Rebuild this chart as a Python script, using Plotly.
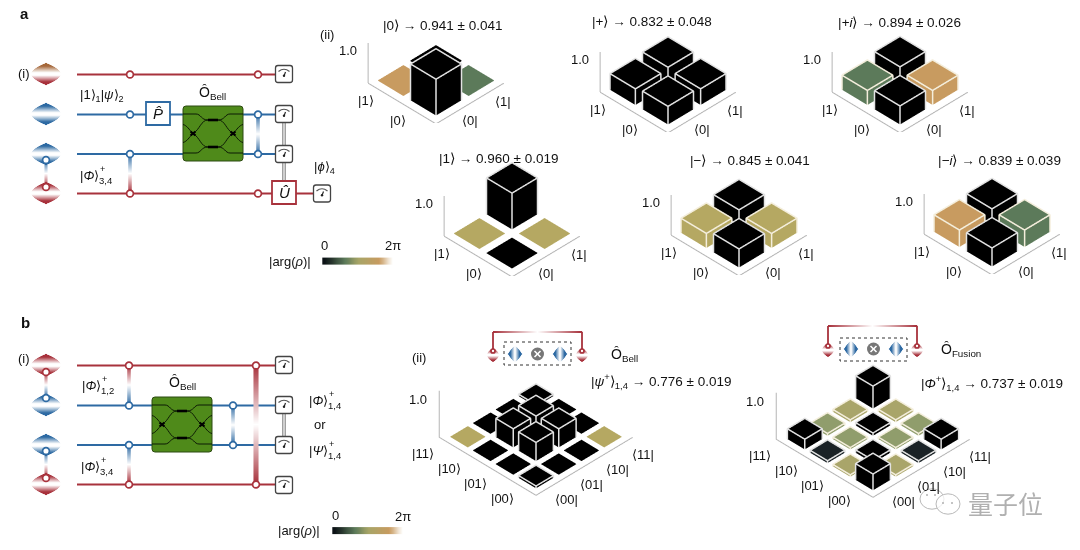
import plotly.graph_objects as go

# ---------- data ----------
K, TAN, GRN, OLV = "#000000", "#c89b60", "#5c7a5a", "#b5a862"
OL2, GR2, DRK = "#a9a56a", "#909d6c", "#1a2226"
panel_titles = ["|0⟩ → 0.941 ± 0.041", "|+⟩ → 0.832 ± 0.048", "|<i>+i</i>⟩ → 0.894 ± 0.026",
                "|1⟩ → 0.960 ± 0.019", "|−⟩ → 0.845 ± 0.041", "|<i>−i</i>⟩ → 0.839 ± 0.039"]
h_0 = [[0.90, 0.01], [0.01, 0.02]]
c_0 = [[K, GRN], [TAN, K]]
h_plus = [[0.45, 0.40], [0.40, 0.45]]
c_plus = [[K, K], [K, K]]
h_pi = [[0.46, 0.36], [0.36, 0.46]]
c_pi = [[K, TAN], [GRN, K]]
h_1 = [[0.01, 0.01], [0.01, 0.90]]
c_1 = [[K, OLV], [OLV, K]]
h_minus = [[0.46, 0.36], [0.36, 0.46]]
c_minus = [[K, OLV], [OLV, K]]
h_mi = [[0.46, 0.42], [0.42, 0.46]]
c_mi = [[K, GRN], [TAN, K]]
h_bell = [[0.05, 0.01, 0.01, 0.01], [0.01, 0.40, 0.40, 0.01],
          [0.01, 0.40, 0.38, 0.01], [0.01, 0.01, 0.01, 0.04]]
c_bell = [[K, K, K, OLV], [K, K, K, K], [K, K, K, K], [OLV, K, K, K]]
h_fus = [[0.35, 0.04, 0.05, 0.22], [0.04, 0.06, 0.04, 0.05],
         [0.05, 0.04, 0.06, 0.05], [0.22, 0.05, 0.05, 0.48]]
c_fus = [[K, OL2, DRK, K], [OL2, K, GR2, GR2], [DRK, GR2, K, OL2], [K, GR2, OL2, K]]
panels_a = [(h_0, c_0, 436, 122), (h_plus, c_plus, 668, 131), (h_pi, c_pi, 900, 131),
            (h_1, c_1, 512, 275), (h_minus, c_minus, 739, 274), (h_mi, c_mi, 992, 273)]
panels_b = [(h_bell, c_bell, 536, 495), (h_fus, c_fus, 873, 497)]
title_pos = [(443, 25), (652, 21), (899, 22), (499, 158), (750, 160), (999, 160)]
kets_a, bras_a = ["|0⟩", "|1⟩"], ["⟨0|", "⟨1|"]
kets_b, bras_b = ["|00⟩", "|01⟩", "|10⟩", "|11⟩"], ["⟨00|", "⟨01|", "⟨10|", "⟨11|"]
cbar_scale = [[0, "#0c1216"], [0.3, "#5c7a5a"], [0.5, "#a8a567"], [0.8, "#c89b60"], [1, "#ffffff"]]
cbar_x = [i / 20 for i in range(21)]

RED, BLUE, BRN, FONT = "#a8323c", "#2e6aa3", "#a5683a", "Liberation Sans"
CAM = 1.25
shapes, notes, traces = [], [], []


def t(x, y, s, size=13, anchor="center", color="#111111", font=FONT):
    notes.append(dict(x=x, y=y, xref="x", yref="y", text=s, showarrow=False, xanchor=anchor,
                      yanchor="middle", borderpad=0,
                      font=dict(family=font, size=size, color=color)))


def line(x0, y0, x1, y1, c, w=1.8, dash=None):
    shapes.append(dict(type="line", xref="x", yref="y", x0=x0, y0=y0, x1=x1, y1=y1,
                       line=dict(color=c, width=w, dash=dash or "solid")))


def path(p, c, w=1.0, fill=None):
    shapes.append(dict(type="path", xref="x", yref="y", path=p, line=dict(color=c, width=w),
                       fillcolor=fill or "rgba(0,0,0,0)"))


def rrect(x0, y0, x1, y1, r, c, w, fill):
    path(f"M{x0+r},{y0} L{x1-r},{y0} Q{x1},{y0} {x1},{y0+r} L{x1},{y1-r} Q{x1},{y1} {x1-r},{y1} "
         f"L{x0+r},{y1} Q{x0},{y1} {x0},{y1-r} L{x0},{y0+r} Q{x0},{y0} {x0+r},{y0} Z", c, w, fill)


def node(x, y, c, r=3.4):
    shapes.append(dict(type="circle", xref="x", yref="y", x0=x-r, x1=x+r, y0=y-r, y1=y+r,
                       fillcolor="white", line=dict(color=c, width=1.7)))


def dot(x, y, r, c):
    shapes.append(dict(type="circle", xref="x", yref="y", x0=x-r, x1=x+r, y0=y-r, y1=y+r,
                       fillcolor=c, line=dict(width=0)))


def rgb(c):
    return [int(c[i:i+2], 16) for i in (1, 3, 5)]


def mix(c, f):
    a = rgb(c)
    return "rgb(%d,%d,%d)" % tuple(255 + (v - 255) * f for v in a)


def link(x, y0, y1, c0, c1, w=3.5):
    n = int(abs(y1 - y0))
    for i in range(n):
        u = i / max(n - 1, 1)
        col = mix(c0, 1 - 2 * u) if u < .5 else mix(c1, 2 * u - 1)
        line(x, y0 + i, x, y0 + i + 1.2, col, w)


def hlink(y, x0, x1, c):
    n = int(x1 - x0)
    for i in range(n):
        u = i / (n - 1)
        line(x0 + i, y, x0 + i + 1.2, y, mix(c, abs(2 * u - 1)), 1.8)


def diamond(cx, cy, ct, cb, W=15, H=11):
    for d in range(-H, H):
        a = (d + .5) / H
        u = abs(a)
        hw = W * (1 - u ** 1.8)
        col = ct if a < 0 else cb
        line(cx - hw, cy + d + .5, cx + hw, cy + d + .5, mix(col, min(1, max(0, (u - .12) / .6))), 1.1)


def lens(cx, cy, c, W=7, H=8):
    for d in range(-W, W):
        a = (d + .5) / W
        u = abs(a)
        hh = H * (1 - u ** 1.4)
        line(cx + d + .5, cy - hh, cx + d + .5, cy + hh, mix(c, min(1, max(0, (u - .05) / .6))), 1.1)


def meter(x, y):
    rrect(x - 8.5, y - 8.5, x + 8.5, y + 8.5, 2.5, "#444444", 1.3, "white")
    path(f"M{x-5.5},{y-2.5} Q{x},{y-7} {x+5.5},{y-2.5}", "#555555", 1.2)
    line(x, y + 2, x + 1.5, y - 2, "#222222", 1.2)
    dot(x, y + 1.8, 1.2, "#222222")


def bell_box(cx, cy):
    rrect(cx - 30, cy - 27.5, cx + 30, cy + 27.5, 3, "#2d4a12", 1.0, "#4f8a1a")
    for s in (-1, 1):
        y1, y2 = cy + s * 19.5, cy + s * 13.5
        path(f"M{cx-30},{y1} L{cx-17},{y1} C{cx-12},{y1} {cx-12},{y2} {cx-5},{y2} L{cx+5},{y2} "
             f"C{cx+12},{y2} {cx+12},{y1} {cx+17},{y1} L{cx+30},{y1}", "#0d1a05", 1.0)
        line(cx - 5, y2, cx + 5, y2, "#000000", 2.6)
        path(f"M{cx-5},{y2} C{cx-12},{y2} {cx-13},{cy+s*4} {cx-20},{cy} C{cx-24},{cy-s*4} {cx-26},{cy-s*8} {cx-30},{cy-s*9}",
             "#0d1a05", 1.0)
        path(f"M{cx+5},{y2} C{cx+12},{y2} {cx+13},{cy+s*4} {cx+20},{cy} C{cx+24},{cy-s*4} {cx+26},{cy-s*8} {cx+30},{cy-s*9}",
             "#0d1a05", 1.0)
    for sx in (-20, 20):
        line(cx + sx - 2.5, cy - 2, cx + sx + 2.5, cy + 2, "#000000", 2.2)
        line(cx + sx - 2.5, cy + 2, cx + sx + 2.5, cy - 2, "#000000", 2.2)


def boxlabel(x0, y0, x1, y1, c, s):
    shapes.append(dict(type="rect", xref="x", yref="y", x0=x0, x1=x1, y0=y0, y1=y1,
                       fillcolor="white", line=dict(color=c, width=1.8)))
    t((x0 + x1) / 2, (y0 + y1) / 2, s, 15)


def phi(x, y, sym, sub):
    t(x, y, f"|<i>{sym}</i>⟩", 13, "left")
    t(x + 20, y - 6, "+", 9, "left")
    t(x + 19, y + 5, sub, 9.5, "left")


def sketch(xl, xr, ytop, cy, bx0, bx1, by0, by1):
    hlink(ytop, xl, xr, RED)
    for x in (xl, xr):
        line(x, ytop, x, cy - 5, RED, 1.8)
        diamond(x, cy + 1, RED, RED, 6, 7)
        node(x, cy - 3, RED, 2)
    path(f"M{bx0},{by0} L{bx1},{by0} L{bx1},{by1} L{bx0},{by1} Z", "#333333", 1)
    shapes[-1]["line"]["dash"] = "dot"
    lens(bx0 + 11, cy, BLUE)
    lens(bx1 - 11, cy, BLUE)
    c = (bx0 + bx1) / 2
    dot(c, cy, 6.5, "#777777")
    line(c - 3, cy - 3, c + 3, cy + 3, "white", 1.6)
    line(c - 3, cy + 3, c + 3, cy - 3, "white", 1.6)


# ---------- circuit a ----------
line(77, 74.5, 276, 74.5, RED)
line(77, 114.5, 276, 114.5, BLUE)
line(77, 154, 276, 154, BLUE)
line(77, 193.5, 314, 193.5, RED)
link(130, 154, 193, BLUE, RED)
link(258, 114, 154, BLUE, BLUE)
link(46, 160, 187, BLUE, RED, 3)
diamond(46, 74, BRN, RED)
diamond(46, 114, BLUE, BLUE)
diamond(46, 154, BLUE, BLUE)
diamond(46, 193, RED, RED)
node(46, 160, BLUE); node(46, 187, RED)
for x, y, c in [(130, 74.5, RED), (258, 74.5, RED), (130, 114.5, BLUE), (258, 114.5, BLUE),
                (130, 154, BLUE), (258, 154, BLUE), (130, 193.5, RED), (258, 193.5, RED)]:
    node(x, y, c)
boxlabel(146, 102, 170, 125, BLUE, "<i>P̂</i>")
bell_box(213, 133.5)
for dx in (-1.2, 1.2):
    line(284 + dx, 114, 284 + dx, 181, "#888888", 1.2)
boxlabel(272, 181, 296, 204, RED, "<i>Û</i>")
for x, y in [(284, 74), (284, 114), (284, 154), (322, 193.5)]:
    meter(x, y)

# ---------- circuit b ----------
line(77, 365.5, 276, 365.5, RED)
line(77, 405.5, 276, 405.5, BLUE)
line(77, 445, 276, 445, BLUE)
line(77, 484.5, 276, 484.5, RED)
link(129, 365, 405, RED, BLUE)
link(129, 445, 484, BLUE, RED)
link(233, 405, 445, BLUE, BLUE)
link(256, 365, 484, RED, RED, 5)
link(46, 372, 398, RED, BLUE, 3)
link(46, 451, 478, BLUE, RED, 3)
for y, c in [(365, RED), (405, BLUE), (445, BLUE), (484, RED)]:
    diamond(46, y, c, c)
node(46, 372, RED); node(46, 398, BLUE); node(46, 451, BLUE); node(46, 478, RED)
for x, y, c in [(129, 365.5, RED), (129, 405.5, BLUE), (129, 445, BLUE), (129, 484.5, RED),
                (233, 405.5, BLUE), (233, 445, BLUE), (256, 365.5, RED), (256, 484.5, RED)]:
    node(x, y, c)
bell_box(182, 424.5)
for dx in (-1.2, 1.2):
    line(284 + dx, 405, 284 + dx, 445, "#888888", 1.2)
for y in (365, 405, 445, 485):
    meter(284, y)

sketch(493, 582, 332, 354, 504, 571, 342, 365)
sketch(828, 917, 326, 349, 840, 907, 338, 361)

# ---------- colour bars ----------
for x0, y0 in [(324, 261), (334, 530.5)]:
    traces.append(go.Heatmap(x=[x0 + v * 68 for v in cbar_x], y=[y0 - 1.7, y0 + 1.7], z=[cbar_x, cbar_x],
                             colorscale=cbar_scale, showscale=False, hoverinfo="skip",
                             xaxis="x", yaxis="y", zsmooth="best"))

# ---------- texts ----------
t(24, 13, "<b>a</b>", 15)
t(25, 322, "<b>b</b>", 15)
t(24, 73, "(i)"); t(24, 358, "(i)")
t(327, 34, "(ii)"); t(419, 357, "(ii)")
t(79, 95, "|1⟩<sub>1</sub>|<i>ψ</i>⟩<sub>2</sub>", 13, "left")
t(212, 93, "Ô<sub>Bell</sub>", 14)
t(182, 383, "Ô<sub>Bell</sub>", 14)
phi(79, 175, "Φ", "3,4")
t(313, 167, "|<i>ϕ</i>⟩<sub>4</sub>", 13, "left")
t(324, 245, "0"); t(393, 245, "2π")
t(290, 261, "|arg(<i>ρ</i>)|")
t(335, 515, "0"); t(403, 516, "2π")
t(299, 530, "|arg(<i>ρ</i>)|")
phi(81, 385, "Φ", "1,2")
phi(80, 466, "Φ", "3,4")
phi(308, 400, "Φ", "1,4")
phi(308, 450, "Ψ", "1,4")
t(320, 424, "or")
t(610, 355, "Ô<sub>Bell</sub>", 14, "left")
t(940, 350, "Ô<sub>Fusion</sub>", 14, "left")
t(590, 381, "|<i>ψ</i><sup>+</sup>⟩<sub>1,4</sub> → 0.776 ± 0.019", 13.5, "left")
t(920, 383, "|<i>Φ</i><sup>+</sup>⟩<sub>1,4</sub> → 0.737 ± 0.019", 13.5, "left")
for s, (x, y) in zip(panel_titles, title_pos):
    t(x, y, s, 13.5)

# ---------- 3D bars ----------
layout_scenes = {}


def bars(idx, hs, cs, ox, oy, asp, half, start, step, up, W, HH):
    n = len(hs)
    vx, vy, vz, i, j, kk, fc = [], [], [], [], [], [], []
    ex, ey, ez, fx, fy, fz = [], [], [], [], [], []
    e = 0.025
    ez_off = 1.06 * e * (asp[0] / n) / asp[1]
    for a in range(n):
        for b in range(n):
            h, c = hs[a][b], cs[a][b]
            mx, my = start + step * b, start + step * a
            x0, x1, y0, y1 = mx - half, mx + half, my - half, my + half
            s = len(vx)
            for z in (0, h):
                vx += [x0, x1, x1, x0]; vy += [y0, y0, y1, y1]; vz += [z] * 4
            for f in [(0, 1, 2), (0, 2, 3), (4, 5, 6), (4, 6, 7), (0, 1, 5), (0, 5, 4),
                      (1, 2, 6), (1, 6, 5), (2, 3, 7), (2, 7, 6), (3, 0, 4), (3, 4, 7)]:
                i.append(s + f[0]); j.append(s + f[1]); kk.append(s + f[2]); fc.append(c)
            if h >= .03:
                L = (ex, ey, ez) if c in (K, DRK) else (fx, fy, fz)
                u0, u1, w0, w1 = x0 - e, x1 - e, y0 - e, y1 - e
                ht = h + ez_off
                L[0].extend([u0, u1, u1, u0, u0, None]); L[1].extend([w0, w0, w1, w1, w0, None])
                L[2].extend([ht, ht, ht, ht, ht, None])
                for xx, yy in [(u0, w0), (u1, w0), (u0, w1)]:
                    L[0].extend([xx, xx, None]); L[1].extend([yy, yy, None]); L[2].extend([ez_off, ht, None])
    name = "scene" if idx == 1 else f"scene{idx}"
    traces.append(go.Mesh3d(x=vx, y=vy, z=vz, i=i, j=j, k=kk, facecolor=fc, flatshading=True, scene=name,
                            hoverinfo="skip", lighting=dict(ambient=1, diffuse=0, specular=0, fresnel=0, roughness=1)))
    for X, Y, Z, col in [(ex, ey, ez, "#e2e2e2"), (fx, fy, fz, "#f4eedc")]:
        if X:
            traces.append(go.Scatter3d(x=X, y=Y, z=Z, mode="lines", scene=name, hoverinfo="skip",
                                       line=dict(color=col, width=3), showlegend=False))
    ax = [n, 0, 0, None]; ay = [0, 0, n, None]; az = [0, 0, 0, None]
    ax += [0, 0]; ay += [n, n]; az += [0, 1]
    if n == 4:
        for m in range(1, 4):
            ax += [None, m, m, None, -.08, 0]
            ay += [None, -.08, 0, None, m, m]
            az += [None, 0, 0, None, 0, 0]
    traces.append(go.Scatter3d(x=ax, y=ay, z=az, mode="lines", scene=name, hoverinfo="skip",
                               line=dict(color="#b5b5b5", width=2), showlegend=False))
    cx, cy = ox, oy - up
    off = dict(visible=False, showspikes=False)
    layout_scenes[name] = dict(
        domain=dict(x=[(cx - W / 2) / 1080, (cx + W / 2) / 1080], y=[1 - (cy + HH / 2) / 550, 1 - (cy - HH / 2) / 550]),
        xaxis=dict(range=[0, n], **off), yaxis=dict(range=[0, n], **off), zaxis=dict(range=[0, 1], **off),
        aspectmode="manual", aspectratio=dict(x=asp[0], y=asp[0], z=asp[1]),
        bgcolor="rgba(0,0,0,0)",
        camera=dict(projection=dict(type="orthographic"), center=dict(x=0, y=0, z=0),
                    eye=dict(x=-CAM, y=-CAM, z=1.06 * CAM), up=dict(x=0, y=0, z=1)))


idx = 1
for hs, cs, ox, oy in panels_a:
    bars(idx, hs, cs, ox, oy, (1.6, .84), .375, .58, .96, 59, 170, 120)
    idx += 1
for hs, cs, ox, oy in panels_b:
    bars(idx, hs, cs, ox, oy, (1.52, .647), .36, .6, .94, 81, 236, 180)
    idx += 1

for ox, oy in [(p[2], p[3]) for p in panels_a]:
    t(ox - 88, oy - 72, "1.0")
    t(ox - 38, oy - 2, kets_a[0]); t(ox - 70, oy - 22, kets_a[1])
    t(ox + 34, oy - 2, bras_a[0]); t(ox + 67, oy - 21, bras_a[1])
for ox, oy in [(p[2], p[3]) for p in panels_b]:
    t(ox - 118, oy - 96, "1.0")
    for m in range(4):
        t(ox - 34 - m * 26.5, oy + 3 - m * 15, kets_b[m])
        t(ox + 30 + m * 25.5, oy + 4 - m * 15, bras_b[m])

# ---------- watermark ----------
for x, y, r in [(932, 499, 12), (948, 504, 12)]:
    shapes.append(dict(type="circle", xref="x", yref="y", x0=x-r, x1=x+r, y0=y-r*.85, y1=y+r*.85,
                       fillcolor="rgba(255,255,255,.75)", line=dict(color="#b8b8b8", width=1)))
for x, y in [(927, 495), (935, 495), (943, 503), (952, 503)]:
    dot(x, y, 1, "#b0b0b0")
t(1005, 503, "量子位", 25, color="#b0b0b0", font="Noto Sans CJK SC")

fig = go.Figure(traces)
fig.update_layout(
    width=1080, height=550, margin=dict(l=0, r=0, t=0, b=0), autosize=False,
    paper_bgcolor="white", plot_bgcolor="white", showlegend=False, hovermode=False,
    xaxis=dict(range=[0, 1080], visible=False, domain=[0, 1], fixedrange=True),
    yaxis=dict(range=[550, 0], visible=False, domain=[0, 1], fixedrange=True),
    shapes=shapes, annotations=notes, **layout_scenes)
fig.write_html("out.html", config=dict(displayModeBar=False),
               post_script="document.body.style.margin='0';document.body.style.overflow='hidden';")
